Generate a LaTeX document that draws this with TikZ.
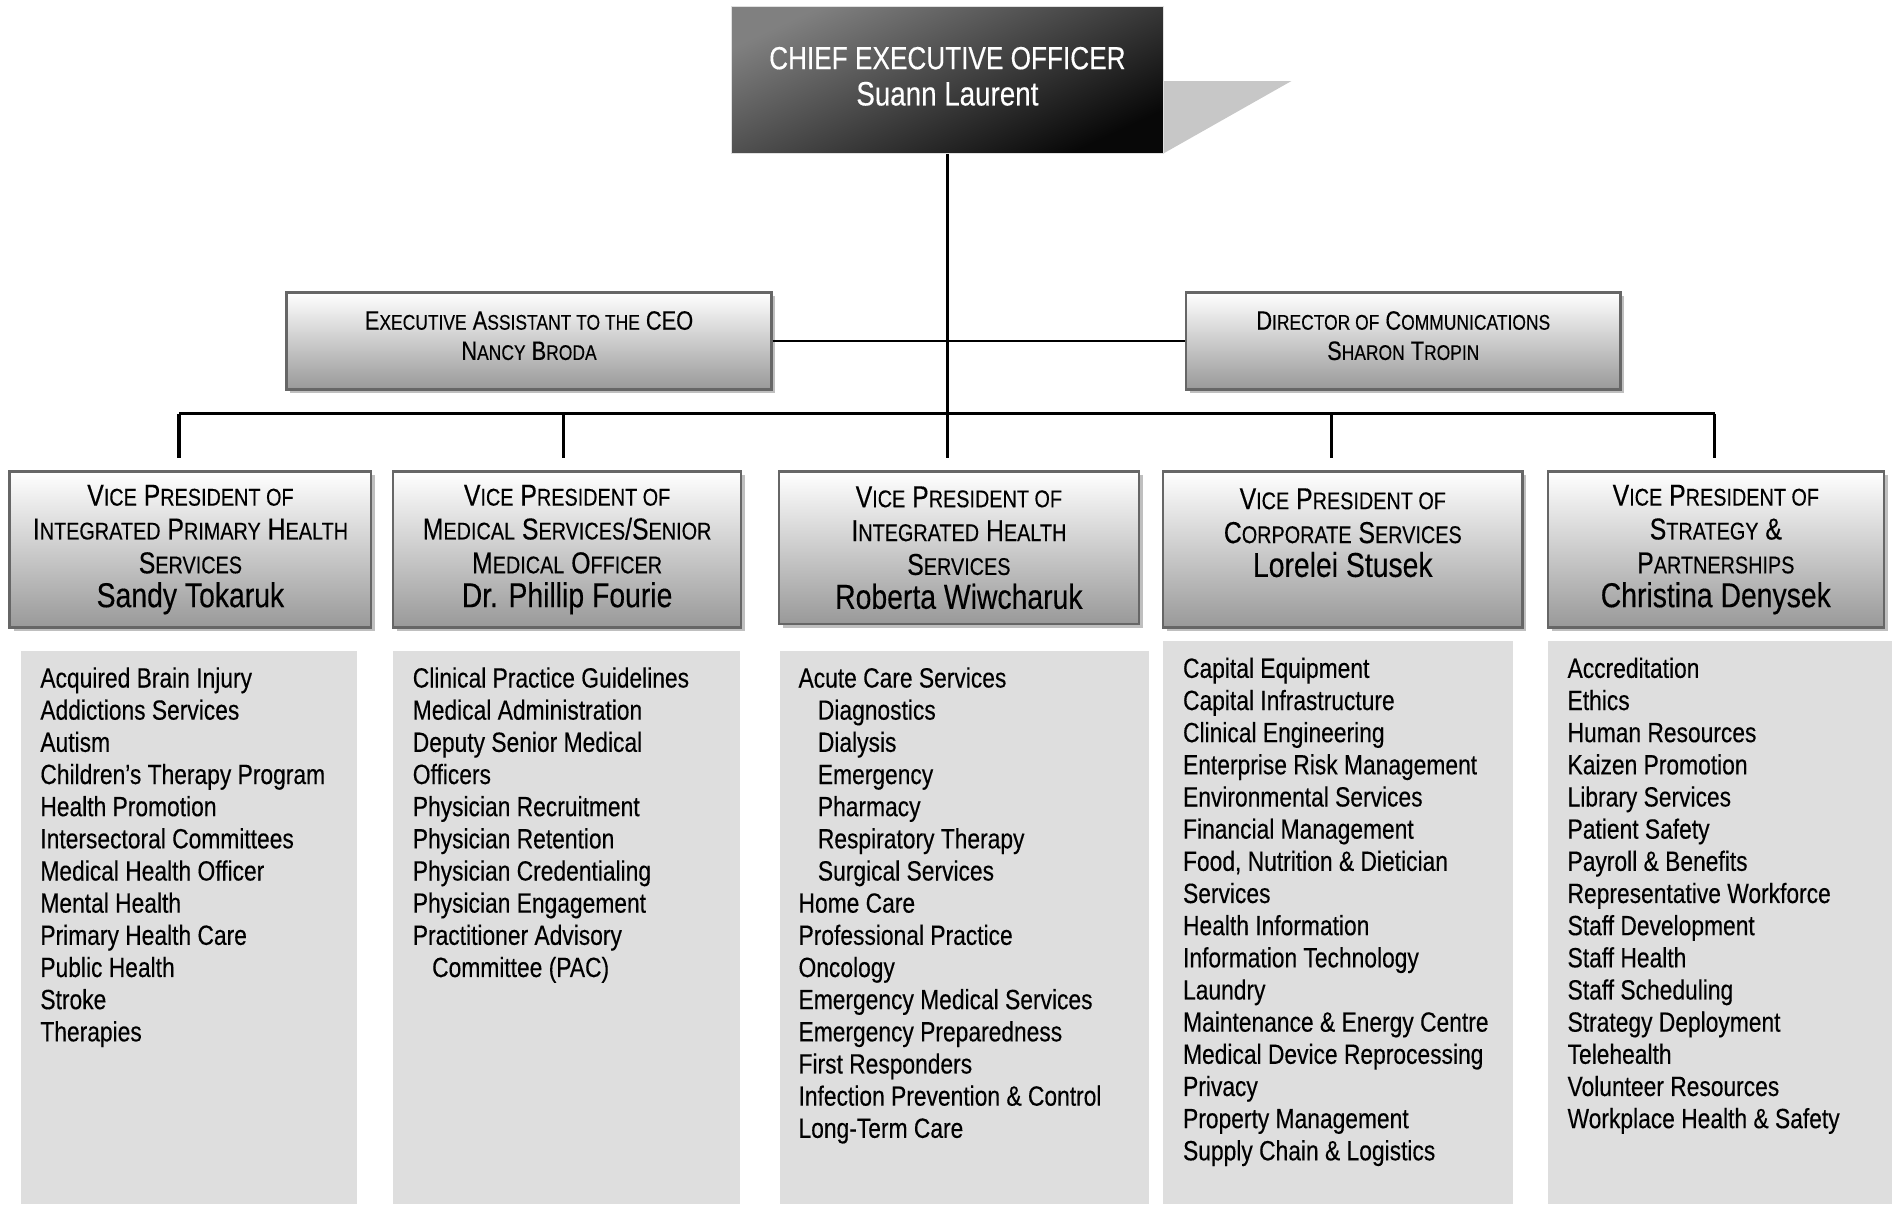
\documentclass[tikz,border=0pt]{standalone}
\usepackage{fontspec}
\setmainfont{Liberation Sans}[FakeStretch=0.82, FakeBold=0.3]
\usetikzlibrary{shadows}

\makeatletter
\newcommand\smc[1]{{\fontsize{\fpeval{0.8*\f@size}}{\f@baselineskip}\selectfont #1}}
\makeatother

\tikzset{
  boss/.style={draw=black!12, text=white, align=center,
    top color=black!50, bottom color=black!97, shading angle=25,
    font=\fontsize{13.2}{15}\selectfont},
  staff/.style={draw=black!60, line width=1pt, align=center,
    top color=white, bottom color=black!40, minimum height=40pt,
    drop shadow={shadow xshift=1.6pt, shadow yshift=-1.6pt, fill=black!25, opacity=1},
    font=\fontsize{11}{12.5}\selectfont},
  vp/.style={staff, minimum height=64.5pt, font=\fontsize{12.5}{14}\selectfont},
  duties/.style={anchor=north west, align=left, inner sep=0pt,
    font=\fontsize{11.5}{13.3}\selectfont},
  listbg/.style={fill=black!13},
  bus/.style={line width=1.5pt},
}

\begin{document}
\begin{tikzpicture}[x=0.5pt, y=-0.5pt]
  \useasboundingbox (0,0) rectangle (1568,996);

  % vertices

  \fill[black!22] (962,67) -- (1068,67) -- (962,127) -- cycle;
  \node[boss, minimum width=178.5pt, minimum height=61pt] (0) at (783.5,66)
    {CHIEF EXECUTIVE OFFICER\\{\fontsize{14}{15}\selectfont Suann Laurent}\rule[-3pt]{0pt}{3pt}};

  \node[staff, minimum width=200.5pt] (10) at (437.5,282)
    {E\smc{XECUTIVE} A\smc{SSISTANT TO THE} CEO\\N\smc{ANCY} B\smc{RODA}\rule[-4.5pt]{0pt}{4.5pt}};
  \node[staff, minimum width=179.5pt] (11) at (1160.5,282)
    {D\smc{IRECTOR OF} C\smc{OMMUNICATIONS}\\S\smc{HARON} T\smc{ROPIN}\rule[-4.5pt]{0pt}{4.5pt}};

  \node[vp, minimum width=149.5pt] (20) at (157.5,454.5)
    {V\smc{ICE} P\smc{RESIDENT OF}\\I\smc{NTEGRATED} P\smc{RIMARY} H\smc{EALTH}\\S\smc{ERVICES}\\{\fontsize{14.3}{15}\selectfont Sandy Tokaruk}};
  \node[vp, minimum width=144pt] (21) at (469,454.5)
    {V\smc{ICE} P\smc{RESIDENT OF}\\M\smc{EDICAL} S\smc{ERVICES}/S\smc{ENIOR}\\M\smc{EDICAL} O\smc{FFICER}\\{\fontsize{14.3}{15}\selectfont Dr. Phillip Fourie}};
  \node[vp, minimum width=149pt, minimum height=63pt] (22) at (793,453)
    {V\smc{ICE} P\smc{RESIDENT OF}\\I\smc{NTEGRATED} H\smc{EALTH}\\S\smc{ERVICES}\\{\fontsize{14.3}{15}\selectfont Roberta Wiwcharuk}};
  \node[vp, minimum width=148.5pt] (23) at (1110.5,454.5)
    {V\smc{ICE} P\smc{RESIDENT OF}\\C\smc{ORPORATE} S\smc{ERVICES}\\{\fontsize{14.3}{15}\selectfont Lorelei Stusek}\\\mbox{}};
  \node[vp, minimum width=139pt] (24) at (1419,454.5)
    {V\smc{ICE} P\smc{RESIDENT OF}\\S\smc{TRATEGY} \&\\P\smc{ARTNERSHIPS}\\{\fontsize{14.3}{15}\selectfont Christina Denysek}};

  \fill[listbg] (17,538) rectangle (295,996);
  \fill[listbg] (325,538) rectangle (612,996);
  \fill[listbg] (645,538) rectangle (950,996);
  \fill[listbg] (962,530) rectangle (1251,996);
  \fill[listbg] (1280,530) rectangle (1565,996);

  \node[duties] (30) at (33,551.5) {Acquired Brain Injury\\Addictions Services\\Autism\\Children’s Therapy Program\\Health Promotion\\Intersectoral Committees\\Medical Health Officer\\Mental Health\\Primary Health Care\\Public Health\\Stroke\\Therapies};
  \node[duties] (31) at (341,551.5) {Clinical Practice Guidelines\\Medical Administration\\Deputy Senior Medical\\Officers\\Physician Recruitment\\Physician Retention\\Physician Credentialing\\Physician Engagement\\Practitioner Advisory\\\hspace*{8pt}Committee (PAC)};
  \node[duties] (32) at (660,551.5) {Acute Care Services\\\hspace*{8pt}Diagnostics\\\hspace*{8pt}Dialysis\\\hspace*{8pt}Emergency\\\hspace*{8pt}Pharmacy\\\hspace*{8pt}Respiratory Therapy\\\hspace*{8pt}Surgical Services\\Home Care\\Professional Practice\\Oncology\\Emergency Medical Services\\Emergency Preparedness\\First Responders\\Infection Prevention \& Control\\Long-Term Care};
  \node[duties] (33) at (978,543.5) {Capital Equipment\\Capital Infrastructure\\Clinical Engineering\\Enterprise Risk Management\\Environmental Services\\Financial Management\\Food, Nutrition \& Dietician\\Services\\Health Information\\Information Technology\\Laundry\\Maintenance \& Energy Centre\\Medical Device Reprocessing\\Privacy\\Property Management\\Supply Chain \& Logistics};
  \node[duties] (34) at (1296,543.5) {Accreditation\\Ethics\\Human Resources\\Kaizen Promotion\\Library Services\\Patient Safety\\Payroll \& Benefits\\Representative Workforce\\Staff Development\\Staff Health\\Staff Scheduling\\Strategy Deployment\\Telehealth\\Volunteer Resources\\Workplace Health \& Safety};

  % edges

  \coordinate (b0) at (148,342);
  \coordinate (b1) at (466,342);
  \coordinate (b2) at (783.5,342);
  \coordinate (b3) at (1101,342);
  \coordinate (b4) at (1418,342);

  \draw[line width=0.7pt] (10.east) to (11.west);
  \draw[bus] (b0) to (b4);
  \draw[bus, shorten >=5pt] (0.south) to (0.south |- 22.north);
  \foreach \i in {0,1,3,4}
    \draw[bus, shorten >=5pt] (b\i) to (b\i |- 2\i.north);
\end{tikzpicture}
\end{document}
